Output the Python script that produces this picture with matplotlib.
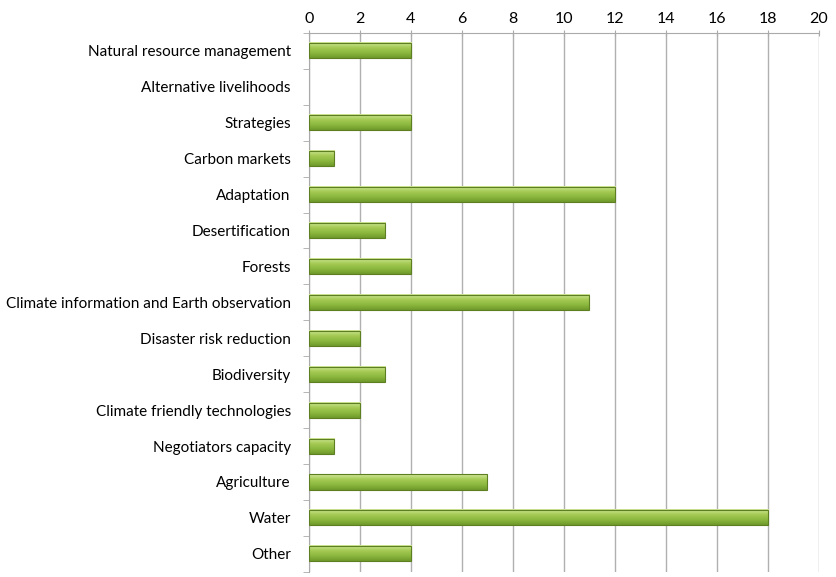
import numpy as np
import matplotlib.pyplot as plt
from matplotlib.colors import LinearSegmentedColormap

categories = ['Natural resource management', 'Alternative livelihoods', 'Strategies',
              'Carbon markets', 'Adaptation', 'Desertification', 'Forests',
              'Climate information and Earth observation', 'Disaster risk reduction',
              'Biodiversity', 'Climate friendly technologies', 'Negotiators capacity',
              'Agriculture', 'Water', 'Other']
values = [4, 0, 4, 1, 12, 3, 4, 11, 2, 3, 2, 1, 7, 18, 4]
xticks = list(range(0, 21, 2))

plt.rcParams['font.family'] = ['Lato', 'DejaVu Sans']

fig = plt.figure(figsize=(8.37, 5.77), dpi=100)
ax = fig.add_axes([0.369, 0.009, 0.6095, 0.934])

n = len(categories)
y = np.arange(n)
bar_h = 0.42

# vertical gradient for the bars (light top, darker bottom); row 0 is drawn at the top
cmap = LinearSegmentedColormap.from_list('g', ['#d2e79a', '#a6cb55', '#8cb83f', '#6f9a2b'])
grad = np.linspace(0, 1, 64).reshape(-1, 1)
for yi, v in zip(y, values):
    if v <= 0:
        continue
    ax.imshow(grad, cmap=cmap, aspect='auto', interpolation='bilinear',
              extent=[0, v, yi + bar_h / 2, yi - bar_h / 2], zorder=3)
    ax.barh(yi, v, height=bar_h, color='none', edgecolor='#5d7f22', linewidth=0.8, zorder=4)

ax.set_xlim(0, 20)
ax.set_ylim(n - 0.5, -0.5)
ax.set_xticks(xticks)
ax.xaxis.tick_top()
ax.tick_params(axis='x', length=4, direction='inout', color='#aaaaaa', labelsize=11.5, pad=3)
ax.set_yticks(y)
ax.set_yticklabels(categories, fontsize=11)
ax.tick_params(axis='y', which='major', length=0, pad=13)
ax.set_yticks(np.arange(-0.5, n, 1), minor=True)
ax.tick_params(axis='y', which='minor', length=4, color='#aaaaaa')

ax.grid(axis='x', color='#b0b0b0', linewidth=1)
ax.set_axisbelow(True)
for s in ['right', 'bottom']:
    ax.spines[s].set_visible(False)
ax.spines['top'].set_color('#aaaaaa')
ax.spines['left'].set_color('#aaaaaa')

fig.savefig('out.png', dpi=100)
